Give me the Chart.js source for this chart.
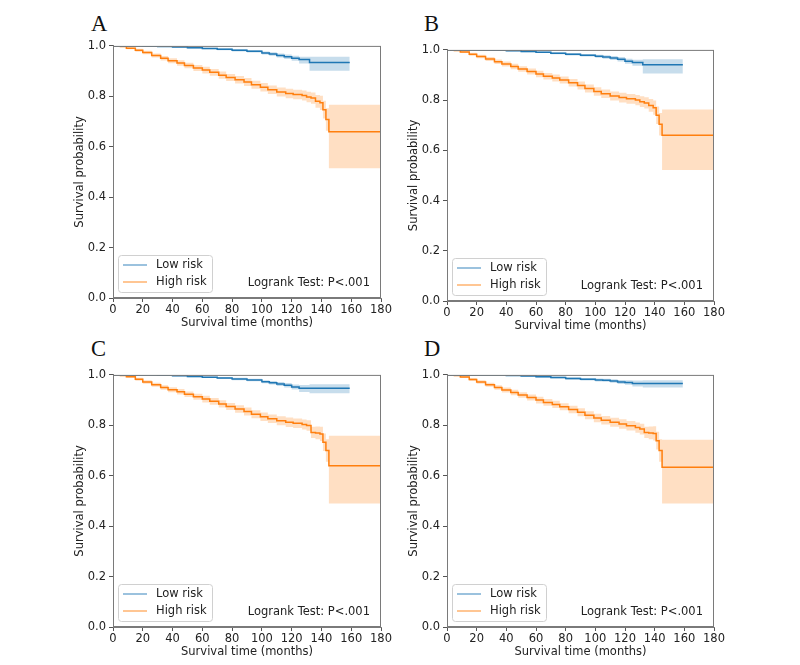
<!DOCTYPE html>
<html lang="en">
<head>
<meta charset="UTF-8">
<title>Survival curves by risk group</title>
<script src="https://cdn.jsdelivr.net/npm/chart.js@4.4.1/dist/chart.umd.min.js"></script>
<style>
    body {
        margin: 0;
        background: #fff;
        width: 800px;
        height: 665px;
        position: relative;
        overflow: hidden;
        font-family: 'DejaVu Sans', sans-serif;
    }
    canvas { position: absolute; }
    .tag {
        position: absolute;
        font-family: 'Liberation Serif', 'Times New Roman', serif;
        font-size: 22.5px;
        line-height: 1;
        color: #111;
    }
</style>
</head>
<body>
<div class="tag" style="left:91px;top:13px">A</div>
<div class="tag" style="left:424px;top:13px">B</div>
<div class="tag" style="left:91px;top:338px">C</div>
<div class="tag" style="left:424px;top:338px">D</div>
<canvas id="chartA"></canvas>
<canvas id="chartB"></canvas>
<canvas id="chartC"></canvas>
<canvas id="chartD"></canvas>

<script>
// time grids (months)
const highTime = [0, 5, 9, 15, 20, 26, 32, 37, 43, 48, 54, 60, 65, 71, 76, 82, 88, 93, 99, 104, 110, 116, 121, 127, 130, 133, 136, 139, 141, 143, 145, 180];
const lowTime = [0, 10, 20, 30, 40, 50, 60, 70, 80, 90, 100, 105, 110, 115, 120, 125, 132, 159];

const xTicks = [0, 20, 40, 60, 80, 100, 120, 140, 160, 180];
const yTicks = [0.0, 0.2, 0.4, 0.6, 0.8, 1.0];
const groupLabels = ['Low risk', 'High risk'];
const testLabel = 'Logrank Test: P<.001';
const xTitle = 'Survival time (months)';
const yTitle = 'Survival probability';

// panel A
const aHigh   = [1.000, 0.998, 0.991, 0.983, 0.974, 0.962, 0.951, 0.941, 0.932, 0.922, 0.912, 0.904, 0.895, 0.884, 0.875, 0.866, 0.857, 0.846, 0.836, 0.826, 0.817, 0.811, 0.807, 0.803, 0.797, 0.793, 0.780, 0.774, 0.747, 0.708, 0.659, 0.659];
const aHighHi = [1.000, 1.000, 0.995, 0.989, 0.981, 0.970, 0.960, 0.951, 0.943, 0.933, 0.924, 0.917, 0.908, 0.898, 0.889, 0.881, 0.873, 0.862, 0.853, 0.843, 0.835, 0.830, 0.826, 0.823, 0.818, 0.815, 0.805, 0.802, 0.782, 0.753, 0.767, 0.767];
const aHighLo = [1.000, 0.996, 0.987, 0.977, 0.967, 0.954, 0.942, 0.931, 0.921, 0.911, 0.900, 0.891, 0.882, 0.870, 0.861, 0.851, 0.841, 0.830, 0.819, 0.809, 0.799, 0.792, 0.788, 0.783, 0.776, 0.771, 0.755, 0.746, 0.712, 0.663, 0.515, 0.515];
const aLow    = [1.000, 1.000, 0.999, 0.998, 0.996, 0.993, 0.990, 0.987, 0.983, 0.979, 0.972, 0.968, 0.962, 0.957, 0.951, 0.946, 0.934, 0.934];
const aLowHi  = [1.000, 1.000, 1.000, 0.999, 0.998, 0.996, 0.993, 0.991, 0.988, 0.984, 0.978, 0.975, 0.970, 0.966, 0.961, 0.957, 0.957, 0.957];
const aLowLo  = [1.000, 1.000, 0.998, 0.997, 0.994, 0.990, 0.987, 0.983, 0.978, 0.974, 0.966, 0.961, 0.954, 0.948, 0.941, 0.930, 0.901, 0.901];

// panel B
const bHigh   = [1.000, 0.998, 0.992, 0.983, 0.974, 0.964, 0.953, 0.944, 0.934, 0.924, 0.914, 0.904, 0.895, 0.888, 0.880, 0.869, 0.858, 0.846, 0.834, 0.825, 0.816, 0.810, 0.805, 0.800, 0.794, 0.789, 0.779, 0.770, 0.740, 0.704, 0.660, 0.660];
const bHighHi = [1.000, 1.000, 0.996, 0.989, 0.981, 0.972, 0.962, 0.954, 0.945, 0.935, 0.926, 0.917, 0.908, 0.902, 0.894, 0.884, 0.874, 0.862, 0.851, 0.842, 0.834, 0.829, 0.824, 0.820, 0.815, 0.811, 0.804, 0.798, 0.775, 0.749, 0.763, 0.763];
const bHighLo = [1.000, 0.996, 0.988, 0.977, 0.967, 0.956, 0.944, 0.934, 0.923, 0.913, 0.902, 0.891, 0.882, 0.874, 0.866, 0.854, 0.842, 0.830, 0.817, 0.808, 0.798, 0.791, 0.786, 0.780, 0.773, 0.767, 0.754, 0.742, 0.705, 0.659, 0.522, 0.522];
const bLow    = [1.000, 1.000, 1.000, 0.999, 0.997, 0.994, 0.991, 0.987, 0.983, 0.979, 0.975, 0.972, 0.968, 0.963, 0.955, 0.950, 0.941, 0.941];
const bLowHi  = [1.000, 1.000, 1.000, 1.000, 0.999, 0.997, 0.994, 0.991, 0.988, 0.984, 0.981, 0.979, 0.976, 0.972, 0.965, 0.961, 0.963, 0.963];
const bLowLo  = [1.000, 1.000, 1.000, 0.998, 0.995, 0.991, 0.988, 0.983, 0.978, 0.974, 0.969, 0.965, 0.960, 0.954, 0.945, 0.937, 0.906, 0.906];

// panel C
const cHigh   = [1.000, 0.998, 0.993, 0.983, 0.972, 0.961, 0.950, 0.941, 0.933, 0.923, 0.913, 0.904, 0.895, 0.885, 0.875, 0.865, 0.855, 0.844, 0.834, 0.826, 0.818, 0.812, 0.808, 0.803, 0.799, 0.772, 0.770, 0.766, 0.733, 0.700, 0.640, 0.640];
const cHighHi = [1.000, 1.000, 0.997, 0.989, 0.979, 0.969, 0.959, 0.951, 0.944, 0.934, 0.925, 0.917, 0.908, 0.899, 0.889, 0.880, 0.871, 0.860, 0.851, 0.843, 0.836, 0.831, 0.827, 0.823, 0.820, 0.794, 0.795, 0.794, 0.768, 0.745, 0.759, 0.759];
const cHighLo = [1.000, 0.996, 0.989, 0.977, 0.965, 0.953, 0.941, 0.931, 0.922, 0.912, 0.901, 0.891, 0.882, 0.871, 0.861, 0.850, 0.839, 0.828, 0.817, 0.809, 0.800, 0.793, 0.789, 0.783, 0.778, 0.750, 0.745, 0.738, 0.698, 0.655, 0.490, 0.490];
const cLow    = [1.000, 1.000, 1.000, 0.999, 0.997, 0.994, 0.991, 0.988, 0.984, 0.980, 0.973, 0.969, 0.964, 0.959, 0.952, 0.947, 0.947, 0.947];
const cLowHi  = [1.000, 1.000, 1.000, 1.000, 0.999, 0.997, 0.994, 0.992, 0.989, 0.985, 0.979, 0.976, 0.972, 0.968, 0.962, 0.960, 0.963, 0.963];
const cLowLo  = [1.000, 1.000, 1.000, 0.998, 0.995, 0.991, 0.988, 0.984, 0.979, 0.975, 0.967, 0.962, 0.956, 0.950, 0.942, 0.932, 0.927, 0.927];

// panel D
const dHigh   = [1.000, 0.998, 0.992, 0.982, 0.972, 0.961, 0.950, 0.940, 0.930, 0.920, 0.910, 0.900, 0.891, 0.883, 0.874, 0.863, 0.852, 0.840, 0.829, 0.820, 0.812, 0.805, 0.798, 0.791, 0.785, 0.772, 0.770, 0.768, 0.739, 0.700, 0.634, 0.634];
const dHighHi = [1.000, 1.000, 0.996, 0.988, 0.979, 0.969, 0.959, 0.950, 0.941, 0.931, 0.922, 0.913, 0.904, 0.897, 0.888, 0.878, 0.868, 0.856, 0.846, 0.837, 0.830, 0.824, 0.817, 0.811, 0.806, 0.794, 0.795, 0.796, 0.774, 0.745, 0.743, 0.743];
const dHighLo = [1.000, 0.996, 0.988, 0.976, 0.965, 0.953, 0.941, 0.930, 0.919, 0.909, 0.898, 0.887, 0.878, 0.869, 0.860, 0.848, 0.836, 0.824, 0.812, 0.803, 0.794, 0.786, 0.779, 0.771, 0.764, 0.750, 0.745, 0.740, 0.704, 0.655, 0.490, 0.490];
const dLow    = [1.000, 1.000, 1.000, 1.000, 0.998, 0.996, 0.993, 0.990, 0.986, 0.983, 0.980, 0.979, 0.976, 0.972, 0.970, 0.966, 0.966, 0.966];
const dLowHi  = [1.000, 1.000, 1.000, 1.000, 0.999, 0.998, 0.996, 0.994, 0.991, 0.988, 0.986, 0.985, 0.983, 0.980, 0.979, 0.978, 0.979, 0.979];
const dLowLo  = [1.000, 1.000, 1.000, 0.999, 0.997, 0.994, 0.990, 0.986, 0.981, 0.978, 0.974, 0.973, 0.969, 0.964, 0.961, 0.954, 0.950, 0.950];

const BLUE = '#1f77b4';
const ORANGE = '#ff7f0e';
const BLUE_BAND = 'rgba(31, 119, 180, 0.25)';
const ORANGE_BAND = 'rgba(255, 127, 14, 0.25)';
const BLUE_KEY = 'rgba(31, 119, 180, 0.6)';
const ORANGE_KEY = 'rgba(255, 127, 14, 0.6)';
const FONT = "'DejaVu Sans', sans-serif";

const panels = [
    { id: 'chartA', box: [113, 44, 381, 298], low: [aLow, aLowLo, aLowHi], high: [aHigh, aHighLo, aHighHi] },
    { id: 'chartB', box: [447, 48, 714, 301], low: [bLow, bLowLo, bLowHi], high: [bHigh, bHighLo, bHighHi] },
    { id: 'chartC', box: [113, 373, 381, 627], low: [cLow, cLowLo, cLowHi], high: [cHigh, cHighLo, cHighHi] },
    { id: 'chartD', box: [447, 373, 714, 627], low: [dLow, dLowLo, dLowHi], high: [dHigh, dHighLo, dHighHi] }
];

const AXIS_W = 40, AXIS_H = 32, PAD_TOP = 8, PAD_RIGHT = 16;

function pts(times, vals) {
    return times.map((t, i) => ({ x: t, y: vals[i] }));
}

function band(times, vals, color, fill) {
    return {
        data: pts(times, vals),
        borderWidth: 0,
        pointRadius: 0,
        stepped: 'before',
        backgroundColor: color,
        fill: fill
    };
}

function curve(times, vals, color) {
    return {
        data: pts(times, vals),
        borderColor: color,
        borderWidth: 1.5,
        pointRadius: 0,
        stepped: 'before',
        fill: false
    };
}

// frame, legend box and test label drawn over the plot
const overlay = {
    id: 'overlay',
    afterDraw(chart) {
        const { ctx, chartArea: a } = chart;
        ctx.save();
        ctx.strokeStyle = '#7a7a7a';
        ctx.lineWidth = 1;
        ctx.strokeRect(a.left + 0.5, a.top + 0.5, a.width - 1, a.height - 1);

        // legend
        const lx = a.left + 5, ly = a.bottom - 43;
        ctx.fillStyle = 'rgba(255,255,255,0.9)';
        ctx.strokeStyle = '#d0d0d0';
        ctx.beginPath();
        ctx.roundRect(lx + 0.5, ly + 0.5, 94, 37, 3);
        ctx.fill();
        ctx.stroke();
        const keys = [BLUE_KEY, ORANGE_KEY];
        ctx.font = '11.5px ' + FONT;
        ctx.textBaseline = 'middle';
        groupLabels.forEach((lab, i) => {
            const y = ly + 10 + i * 17;
            ctx.strokeStyle = keys[i];
            ctx.lineWidth = 1.5;
            ctx.beginPath();
            ctx.moveTo(lx + 5, y);
            ctx.lineTo(lx + 29, y);
            ctx.stroke();
            ctx.fillStyle = '#222';
            ctx.fillText(lab, lx + 38, y + 0.5);
        });

        ctx.textAlign = 'right';
        ctx.textBaseline = 'alphabetic';
        ctx.fillText(testLabel, a.right - 11, a.bottom - 12);
        ctx.restore();
    }
};

panels.forEach(p => {
    const [l, t, r, b] = p.box;
    const cv = document.getElementById(p.id);
    cv.width = (r - l) + AXIS_W + PAD_RIGHT;
    cv.height = (b - t) + AXIS_H + PAD_TOP;
    cv.style.left = (l - AXIS_W) + 'px';
    cv.style.top = (t - PAD_TOP) + 'px';

    new Chart(cv.getContext('2d'), {
        type: 'line',
        data: {
            datasets: [
                curve(lowTime, p.low[0], BLUE),
                curve(highTime, p.high[0], ORANGE),
                band(lowTime, p.low[2], BLUE_BAND, '+1'),
                band(lowTime, p.low[1], 'transparent', false),
                band(highTime, p.high[2], ORANGE_BAND, '+1'),
                band(highTime, p.high[1], 'transparent', false)
            ]
        },
        options: {
            responsive: false,
            animation: false,
            events: [],
            layout: { padding: { top: PAD_TOP, right: PAD_RIGHT, left: 0, bottom: 0 } },
            plugins: { legend: { display: false }, tooltip: { enabled: false } },
            scales: {
                x: {
                    type: 'linear',
                    min: 0,
                    max: 180,
                    afterFit(s) { s.height = AXIS_H; },
                    afterBuildTicks(s) { s.ticks = xTicks.map(v => ({ value: v })); },
                    grid: { drawOnChartArea: false, tickLength: 4, color: '#555' },
                    border: { color: '#7a7a7a' },
                    ticks: { color: '#222', padding: 1, maxRotation: 0, font: { family: FONT, size: 11.5 } },
                    title: { display: true, text: xTitle, color: '#222', padding: { top: 0, bottom: 0 }, font: { family: FONT, size: 11.5 } }
                },
                y: {
                    min: 0,
                    max: 1,
                    afterFit(s) { s.width = AXIS_W; },
                    afterBuildTicks(s) { s.ticks = yTicks.map(v => ({ value: v })); },
                    grid: { drawOnChartArea: false, tickLength: 4, color: '#555' },
                    border: { color: '#7a7a7a' },
                    ticks: { color: '#222', padding: 3, font: { family: FONT, size: 11.5 }, callback: v => v.toFixed(1) },
                    title: { display: true, text: yTitle, color: '#222', padding: { top: 0, bottom: 0 }, font: { family: FONT, size: 11.5 } }
                }
            }
        },
        plugins: [overlay]
    });
});
</script>
</body>
</html>
